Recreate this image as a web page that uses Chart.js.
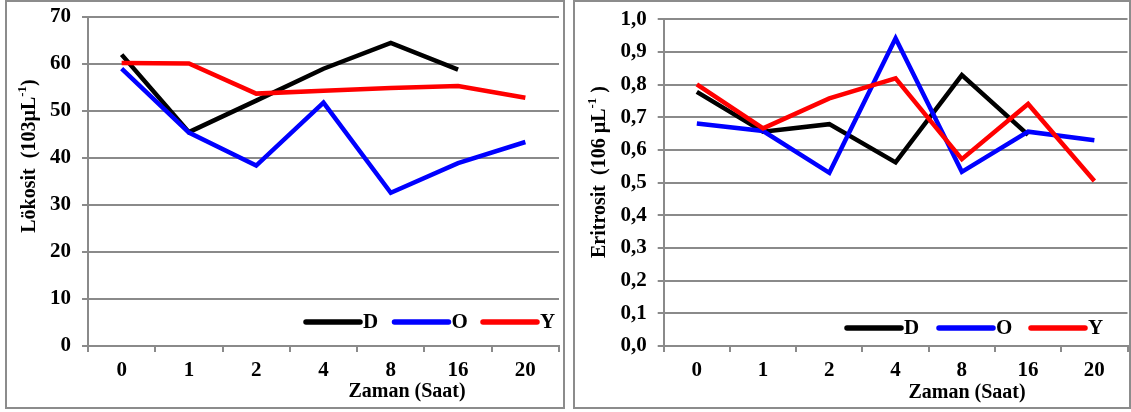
<!DOCTYPE html>
<html>
<head>
<meta charset="utf-8">
<script src="https://cdn.jsdelivr.net/npm/chart.js@4/dist/chart.umd.min.js"></script>
<style>
  html, body { margin:0; padding:0; background:#fff; }
  body { width:1131px; height:412px; position:relative; overflow:hidden; }
  .box { position:absolute; border:2px solid #8c8c8c; box-sizing:border-box; }
  .wrap { position:absolute; top:0; height:412px; }
  canvas { display:block; }
</style>
</head>
<body>
<div class="box" style="left:5px;top:0px;width:560px;height:409px;"></div>
<div class="box" style="left:573px;top:0px;width:558px;height:409px;"></div>
<div class="wrap" style="left:0;width:570px;"><canvas id="c1" width="570" height="412"></canvas></div>
<div class="wrap" style="left:570px;width:561px;"><canvas id="c2" width="561" height="412"></canvas></div>
<script>
// ---- data ----
const categories = ['0', '1', '2', '4', '8', '16', '20'];
const seriesNames = ['D', 'O', 'Y'];

const lokositD = [62.0, 45.5, 52.2, 59.0, 64.5, 58.8, null];
const lokositO = [59.0, 45.4, 38.4, 51.8, 32.6, 38.9, 43.4];
const lokositY = [60.2, 60.1, 53.7, 54.3, 54.9, 55.3, 52.8];

const eritrositD = [0.778, 0.656, 0.679, 0.562, 0.829, 0.646, null];
const eritrositO = [0.681, 0.658, 0.530, 0.942, 0.533, 0.656, 0.630];
const eritrositY = [0.801, 0.666, 0.758, 0.819, 0.572, 0.741, 0.505];

const lokositTicks = ['0', '10', '20', '30', '40', '50', '60', '70'];
const eritrositTicks = ['0,0', '0,1', '0,2', '0,3', '0,4', '0,5', '0,6', '0,7', '0,8', '0,9', '1,0'];

const xTitleText = 'Zaman (Saat)';
const lokositTitle = ['Lökosit  (103µL', '-1', ')'];
const eritrositTitle = ['Eritrosit  (106 µL', '-1', ' )'];
// ---- end data ----

const colors = ['#000000', '#0000ff', '#ff0000'];
const FONT = "'Liberation Serif', 'Times New Roman', serif";
const GRID = '#8a8a8a';

const decor = {
  id: 'decor',
  afterDraw(chart, args, o) {
    const ctx = chart.ctx;
    ctx.save();
    ctx.fillStyle = '#000';
    // x title
    ctx.font = 'bold 20px ' + FONT;
    ctx.textAlign = 'center';
    ctx.textBaseline = 'middle';
    ctx.fillText(o.xTitle, o.xTitleX, o.xTitleY);
    // y title with superscript
    ctx.save();
    ctx.translate(o.yTitleX, o.yTitleY);
    ctx.rotate(-Math.PI / 2);
    const mainF = 'bold 20px ' + FONT, supF = 'bold 13px ' + FONT;
    ctx.font = mainF; const w1 = ctx.measureText(o.yTitle[0]).width;
    const w3 = ctx.measureText(o.yTitle[2]).width;
    ctx.font = supF; const w2 = ctx.measureText(o.yTitle[1]).width;
    let x = -(w1 + w2 + w3) / 2;
    ctx.textAlign = 'left';
    ctx.font = mainF; ctx.fillText(o.yTitle[0], x, 0); x += w1;
    ctx.font = supF; ctx.fillText(o.yTitle[1], x, -7); x += w2;
    ctx.font = mainF; ctx.fillText(o.yTitle[2], x, 0);
    ctx.restore();
    // legend
    ctx.font = 'bold 21px ' + FONT;
    ctx.textAlign = 'left';
    chart.data.datasets.forEach((ds, i) => {
      const x0 = o.legX + i * o.legStep;
      ctx.strokeStyle = ds.borderColor;
      ctx.lineWidth = 5.5;
      ctx.lineCap = 'round';
      ctx.beginPath();
      ctx.moveTo(x0, o.legY);
      ctx.lineTo(x0 + 54, o.legY);
      ctx.stroke();
      ctx.fillStyle = '#000';
      ctx.fillText(ds.label, x0 + 57, o.legY + 1);
    });
    ctx.restore();
  }
};

function makeChart(id, dataArr, tickLabels, yMax, step, pad, axisW, xH, deco) {
  return new Chart(document.getElementById(id), {
    type: 'line',
    data: {
      labels: categories,
      datasets: dataArr.map((d, i) => ({
        label: seriesNames[i],
        data: d,
        borderColor: colors[i],
        backgroundColor: colors[i],
        borderWidth: 4.5,
        pointRadius: 0,
        tension: 0,
        fill: false,
        spanGaps: false,
        borderJoinStyle: 'miter',
        order: 3 - i
      }))
    },
    options: {
      responsive: false,
      animation: false,
      devicePixelRatio: 1,
      layout: { padding: pad },
      plugins: { legend: { display: false }, tooltip: { enabled: false }, decor: deco },
      scales: {
        x: {
          type: 'category',
          offset: true,
          grid: { display: true, drawOnChartArea: false, drawTicks: true, tickLength: 6, color: GRID, lineWidth: 2, offset: true },
          border: { display: true, color: GRID, width: 2 },
          ticks: { color: '#000', font: { family: FONT, size: 21, weight: 'bold' }, padding: 6, maxRotation: 0, autoSkip: false },
          afterFit(s) { s.height = xH; }
        },
        y: {
          min: 0, max: yMax,
          grid: { color: GRID, lineWidth: 2, tickLength: 6, drawTicks: true },
          border: { display: true, color: GRID, width: 2 },
          ticks: {
            stepSize: step,
            color: '#000',
            font: { family: FONT, size: 21, weight: 'bold', lineHeight: 0.4 },
            padding: 11,
            callback: (v, i) => tickLabels[i]
          },
          afterFit(s) { s.width = axisW; }
        }
      }
    },
    plugins: [decor]
  });
}

makeChart('c1', [lokositD, lokositO, lokositY], lokositTicks, 70, 10,
  { left: 0, right: 11, top: 17, bottom: 0 }, 88, 66, 
  { xTitle: xTitleText, xTitleX: 407, xTitleY: 392, yTitle: lokositTitle, yTitleX: 30, yTitleY: 156,
    legX: 306, legStep: 88.5, legY: 322 });

makeChart('c2', [eritrositD, eritrositO, eritrositY], eritrositTicks, 1.0, 0.1,
  { left: 0, right: 3.5, top: 19.3, bottom: 0 }, 93.7, 66, 
  { xTitle: xTitleText, xTitleX: 397, xTitleY: 393, yTitle: eritrositTitle, yTitleX: 30, yTitleY: 172,
    legX: 277, legStep: 92, legY: 328 });
</script>
</body>
</html>
